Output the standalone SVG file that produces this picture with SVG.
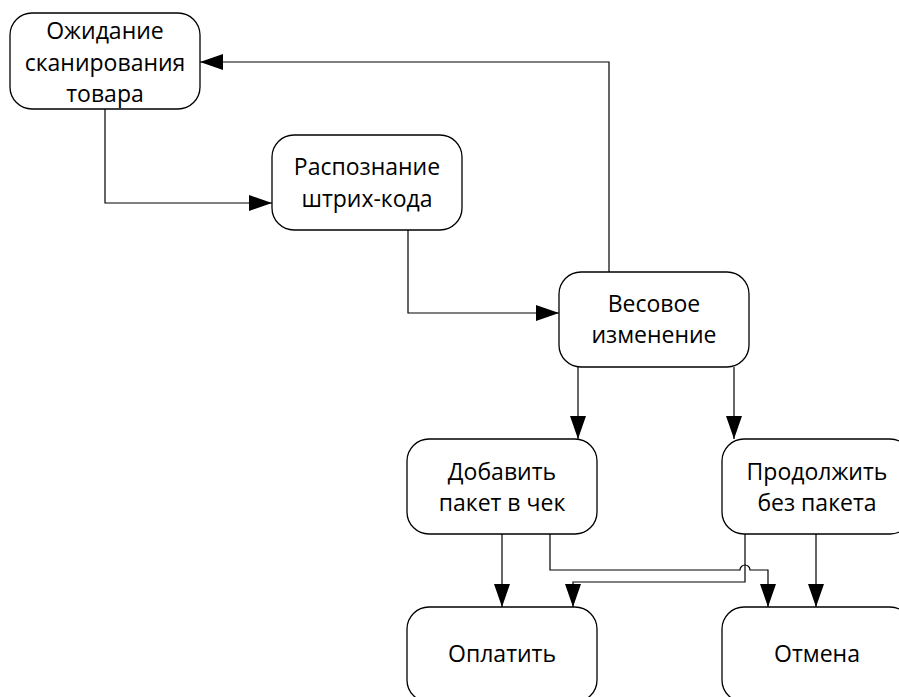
<svg xmlns="http://www.w3.org/2000/svg" width="899" height="697" viewBox="0 0 899 697">
<style>
.box{fill:#fff;stroke:#000;stroke-width:1.3}
.lbl{font-family:"Open Sans","Liberation Sans",sans-serif;font-size:23px;fill:#000;text-anchor:middle}
.con{fill:none;stroke:#000;stroke-width:1.2}
</style>
<defs>
<marker id="ah" viewBox="0 0 23 16" refX="23" refY="8" markerWidth="23" markerHeight="16" markerUnits="userSpaceOnUse" orient="auto">
<path d="M0,0 L23,8 L0,16 Z" fill="#000"/>
</marker>
</defs>
<rect width="899" height="697" fill="#fff"/>
<g id="connectors">
<path class="con" d="M105,109 V203 H272" marker-end="url(#ah)"/>
<path class="con" d="M408,230 V313 H559" marker-end="url(#ah)"/>
<path class="con" d="M609,272 V62 H200" marker-end="url(#ah)"/>
<path class="con" d="M578,367 V439" marker-end="url(#ah)"/>
<path class="con" d="M734,367 V439" marker-end="url(#ah)"/>
<path class="con" d="M502,534 V607" marker-end="url(#ah)"/>
<path class="con" d="M550,534 V570 H740 A5,5 0 0 1 750,570 H768 V607" marker-end="url(#ah)"/>
<path class="con" d="M745,534 V582 H573 V607" marker-end="url(#ah)"/>
<path class="con" d="M816,534 V607" marker-end="url(#ah)"/>
</g>
<g id="n1"><rect class="box" x="10" y="13" width="190" height="96" rx="22"/>
<text class="lbl" x="105" y="39">Ожидание</text><text class="lbl" x="105" y="71">сканирования</text><text class="lbl" x="105" y="102">товара</text></g>
<g id="n2"><rect class="box" x="272" y="135" width="190" height="95" rx="22"/>
<text class="lbl" x="367" y="175">Распознание</text><text class="lbl" x="367" y="207">штрих-кода</text></g>
<g id="n3"><rect class="box" x="559" y="272" width="190" height="95" rx="22"/>
<text class="lbl" x="654" y="312">Весовое</text><text class="lbl" x="654" y="343">изменение</text></g>
<g id="n4"><rect class="box" x="407" y="439" width="190" height="95" rx="22"/>
<text class="lbl" x="502" y="480">Добавить</text><text class="lbl" x="502" y="511">пакет в чек</text></g>
<g id="n5"><rect class="box" x="722" y="439" width="190" height="95" rx="22"/>
<text class="lbl" x="817" y="480">Продолжить</text><text class="lbl" x="817" y="511">без пакета</text></g>
<g id="n6"><rect class="box" x="407" y="607" width="190" height="95" rx="22"/>
<text class="lbl" x="502" y="662">Оплатить</text></g>
<g id="n7"><rect class="box" x="722" y="607" width="190" height="95" rx="22"/>
<text class="lbl" x="817" y="662">Отмена</text></g>
</svg>
